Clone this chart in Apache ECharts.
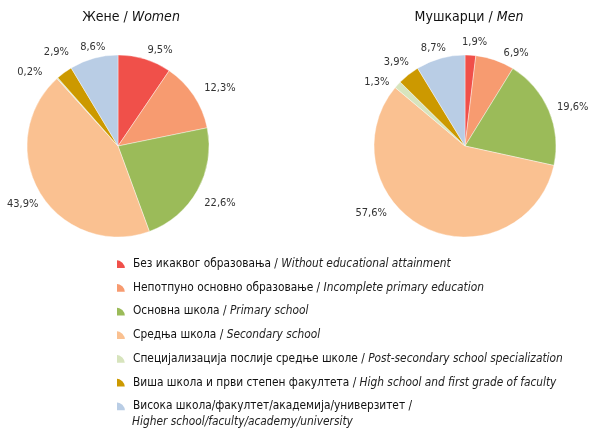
<!DOCTYPE html>
<html>
<head>
<meta charset="utf-8">
<script src="https://cdn.jsdelivr.net/npm/echarts@6/dist/echarts.min.js"></script>
<style>
html,body{margin:0;padding:0;background:#fff;}
#chart{width:591px;height:429px;}
</style>
</head>
<body>
<div id="chart"></div>
<script>
var FONT = '"Liberation Sans Narrow","DejaVu Sans Condensed","Liberation Sans",sans-serif';
var CATEGORIES_SR = ['Без икаквог образовања', 'Непотпуно основно образовање', 'Основна школа', 'Средња школа',
    'Специјализација послије средње школе', 'Виша школа и први степен факултета', 'Висока школа/факултет/академија/универзитет'];
var CATEGORIES_EN = ['Without educational attainment', 'Incomplete primary education', 'Primary school', 'Secondary school',
    'Post-secondary school specialization', 'High school and first grade of faculty', ''];
var LAST_LINE_EN = 'Higher school/faculty/academy/university';
var WOMEN = [9.5, 12.3, 22.6, 43.9, 0.2, 2.9, 8.6];
var MEN = [1.9, 6.9, 19.6, 57.6, 1.3, 3.9, 8.7];
var colors = ['#F0504A', '#F79B70', '#9BBB59', '#FAC191', '#D7E4BD', '#CC9900', '#B9CDE5'];

// small nudges so the % labels sit where Excel's "best fit" put them
var labelShift = [
    [[0, 0], [3, -2], [-1, 8], [6, 6], [-2, -6], [10, -13], [14, -2]],
    [[-9, -4], [-11, -6], [0, 0], [-34, -23], [0, 2], [6, -5], [8, -2]]
];

var myChart = echarts.init(document.getElementById('chart'));

function makeData(values) {
    var out = [];
    values.forEach(function (v, i) {
        out.push({name: CATEGORIES_SR[i], value: v});
    });
    return out;
}

function pieSeries(name, center, values, idx) {
    return {
        name: name,
        type: 'pie',
        center: center,
        radius: 91,
        startAngle: 90,
        clockwise: true,
        avoidLabelOverlap: true,
        itemStyle: {borderColor: '#fff', borderWidth: 0.4},
        label: {
            show: true,
            position: 'outside',
            fontFamily: FONT,
            fontSize: 11,
            color: '#333',
            width: 36,
            overflow: 'none',
            distanceToLabelLine: 0,
            edgeDistance: 0,
            formatter: function (p) {
                return p.value.toFixed(1).replace('.', ',') + '%';
            }
        },
        labelLine: {show: false, length: 9, length2: 0},
        labelLayout: function (p) {
            var s = labelShift[idx][p.dataIndex];
            return {dx: s[0], dy: s[1]};
        },
        emphasis: {scale: false},
        data: makeData(values)
    };
}

var titleRich = {
    a: {fontFamily: FONT, fontSize: 14, color: '#111', fontWeight: 'normal'},
    b: {fontFamily: FONT, fontSize: 14, color: '#111', fontWeight: 'normal', fontStyle: 'italic'}
};

var option = {
    color: colors,
    animation: false,
    title: [
        {
            text: '{a|Жене / }{b|Women}',
            left: 126, top: 5, textAlign: 'center',
            textStyle: {fontWeight: 'normal', rich: titleRich}
        },
        {
            text: '{a|Мушкарци / }{b|Men}',
            left: 464, top: 5, textAlign: 'center',
            textStyle: {fontWeight: 'normal', rich: titleRich}
        }
    ],
    legend: {
        orient: 'vertical',
        left: 110,
        top: 253,
        itemWidth: 10,
        itemHeight: 10,
        itemGap: 11.7,
        icon: 'path://M0,10 L0,0 A10,10 0 0 1 10,10 Z',
        selectedMode: false,
        data: CATEGORIES_SR,
        formatter: function (name) {
            var i = CATEGORIES_SR.indexOf(name);
            if (CATEGORIES_EN[i] === '') return '{a|' + name + ' /}';
            return '{a|' + name + ' / }{b|' + CATEGORIES_EN[i] + '}';
        },
        textStyle: {
            padding: [0, 0, 0, 2],
            rich: {
                a: {fontFamily: FONT, fontSize: 11.8, color: '#111', lineHeight: 14},
                b: {fontFamily: FONT, fontSize: 11.8, color: '#222', fontStyle: 'italic', lineHeight: 14}
            }
        }
    },
    graphic: [{
        type: 'text',
        left: 132,
        top: 416,
        style: {
            text: LAST_LINE_EN,
            fontFamily: FONT,
            fontSize: 11.8,
            fontStyle: 'italic',
            fill: '#222'
        }
    }],
    series: [
        pieSeries('Жене', [118, 146], WOMEN, 0),
        pieSeries('Мушкарци', [465, 146], MEN, 1)
    ]
};
myChart.setOption(option);
</script>
</body>
</html>
